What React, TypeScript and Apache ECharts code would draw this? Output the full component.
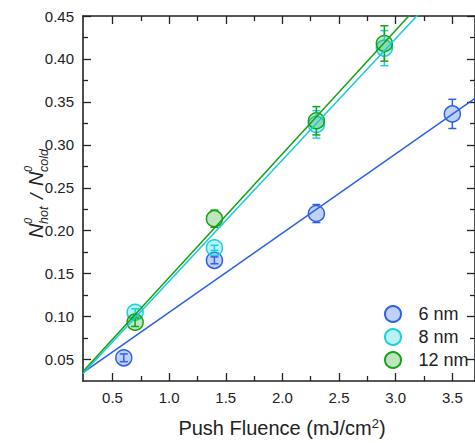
import React, { useEffect, useRef } from "react";
import * as echarts from "echarts";

// ---------- data ----------
const seriesNames = ["6 nm", "8 nm", "12 nm"];
const fluence6 = [0.6, 1.4, 2.3, 3.5];
const ratio6 = [0.052, 0.1655, 0.22, 0.336];
const err6 = [0.0045, 0.004, 0.0105, 0.017];
const fluence8 = [0.7, 1.4, 2.3, 2.9];
const ratio8 = [0.105, 0.18, 0.3238, 0.4126];
const err8 = [0.004, 0.003, 0.016, 0.0204];
const fluence12 = [0.7, 1.4, 2.3, 2.9];
const ratio12 = [0.0935, 0.214, 0.328, 0.418];
const err12 = [0.005, 0.01, 0.0165, 0.0206];
// linear fits: y = intercept + slope * x
const fitIntercepts = [0.0127, -0.0002, 0.0014];
const fitSlopes = [0.0923, 0.1413, 0.144];

const xMajorTicks = [0.5, 1.0, 1.5, 2.0, 2.5, 3.0, 3.5];
const xMinorTicks = [0.75, 1.25, 1.75, 2.25, 2.75, 3.25];
const yMajorTicks = [0.05, 0.1, 0.15, 0.2, 0.25, 0.3, 0.35, 0.4, 0.45];
const yMinorTicks = [0.075, 0.125, 0.175, 0.225, 0.275, 0.325, 0.375, 0.425];

const X_MIN = 0.24;
const X_MAX = 3.7;
const Y_MIN = 0.025;
const Y_MAX = 0.45;

// ---------- style ----------
const FONT = '"Liberation Sans", Arial, sans-serif';
const AX = "#222";
const strokeColors = ["#2e62e6", "#1ccfdc", "#16a316"];
const fillColors = ["rgba(46,98,230,0.3)", "rgba(28,207,220,0.3)", "rgba(22,163,22,0.28)"];
const lineColors = ["#2a5ee8", "#17cbd8", "#13a013"];

export default function App() {
  const ref = useRef<HTMLDivElement>(null);
  useEffect(() => {
    if (!ref.current) return;
    const chart = echarts.init(ref.current, null, { renderer: "svg" });
    const xs = [fluence6, fluence8, fluence12];
    const ys = [ratio6, ratio8, ratio12];
    const es = [err6, err8, err12];

    const scatterSeries = seriesNames.map((name, i) => ({
      name,
      type: "scatter",
      symbol: "circle",
      symbolSize: 16,
      data: xs[i].map((x, k) => [x, ys[i][k]]),
      itemStyle: { color: fillColors[i], borderColor: strokeColors[i], borderWidth: 1.5, opacity: 1 },
      z: 2,
    }));

    const errSeries = seriesNames.map((name, i) => ({
      name: name + " err",
      type: "custom",
      data: xs[i].map((x, k) => [x, ys[i][k], es[i][k]]),
      z: 3,
      renderItem: (params: any, api: any) => {
        const x = api.value(0);
        const y = api.value(1);
        const e = api.value(2);
        const c = api.coord([x, y]);
        const t = api.coord([x, y + e]);
        const b = api.coord([x, y - e]);
        const r = 8;
        const hw = 4;
        const style = { stroke: strokeColors[i], lineWidth: 1.5, fill: "none" };
        const children: any[] = [
          { type: "line", shape: { x1: t[0] - hw, y1: t[1], x2: t[0] + hw, y2: t[1] }, style },
          { type: "line", shape: { x1: b[0] - hw, y1: b[1], x2: b[0] + hw, y2: b[1] }, style },
        ];
        if (c[1] - t[1] > r) {
          children.push({ type: "line", shape: { x1: t[0], y1: t[1], x2: t[0], y2: c[1] - r }, style });
          children.push({ type: "line", shape: { x1: b[0], y1: c[1] + r, x2: b[0], y2: b[1] }, style });
        } else {
          children.push({ type: "line", shape: { x1: t[0], y1: t[1], x2: t[0], y2: b[1] }, style });
        }
        return { type: "group", children };
      },
    }));

    const fitSeries = seriesNames.map((name, i) => ({
      name: name + " fit",
      type: "line",
      showSymbol: false,
      symbol: "none",
      clip: true,
      data: [X_MIN, X_MAX].map((x) => [x, fitIntercepts[i] + fitSlopes[i] * x]),
      lineStyle: { color: lineColors[i], width: 1.5 },
      z: 4,
    }));

    const xBase = { type: "value", min: X_MIN, max: X_MAX, splitLine: { show: false }, gridIndex: 0 };
    const yBase = { type: "value", min: Y_MIN, max: Y_MAX, splitLine: { show: false }, gridIndex: 0 };
    const lineOn = { show: true, onZero: false, lineStyle: { color: AX, width: 1.6 } };
    const majorTick = (vals: number[]) => ({ show: true, inside: true, length: 8, customValues: vals, lineStyle: { color: AX, width: 1.3 } });
    const minorTick = (vals: number[]) => ({ show: true, inside: true, length: 5, customValues: vals, lineStyle: { color: AX, width: 1.3 } });

    const titleText = (text: string, x: number, y: number, size: number) => ({
      type: "text",
      x,
      y,
      style: { text, fontSize: size, fontStyle: "italic", fontFamily: FONT, fill: AX, align: "left", verticalAlign: "middle" },
    });

    const option: any = {
      animation: false,
      backgroundColor: "#fff",
      grid: { left: 83, right: -2, top: 16, bottom: 62, containLabel: false },
      legend: {
        orient: "vertical",
        left: 379,
        top: 300,
        itemWidth: 41,
        itemHeight: 16,
        itemGap: 5,
        data: seriesNames,
        textStyle: { fontSize: 18, color: AX, fontFamily: FONT },
      },
      xAxis: [
        {
          ...xBase,
          position: "bottom",
          axisLine: lineOn,
          axisTick: majorTick(xMajorTicks),
          axisLabel: {
            customValues: xMajorTicks,
            formatter: (v: number) => v.toFixed(1),
            fontSize: 15,
            color: AX,
            fontFamily: FONT,
            margin: 9,
          },
          name: "Push Fluence (mJ/cm{sup|2})",
          nameLocation: "middle",
          nameGap: 36,
          nameTextStyle: {
            fontSize: 20,
            color: AX,
            fontFamily: FONT,
            padding: [0, 0, 0, 6],
            rich: { sup: { fontSize: 13, verticalAlign: "top", color: AX, fontFamily: FONT, padding: [0, 0, 8, 0] } },
          },
        },
        { ...xBase, position: "bottom", axisLine: { show: false }, axisTick: minorTick(xMinorTicks), axisLabel: { show: false } },
        { ...xBase, position: "top", axisLine: lineOn, axisTick: majorTick(xMajorTicks), axisLabel: { show: false } },
        { ...xBase, position: "top", axisLine: { show: false }, axisTick: minorTick(xMinorTicks), axisLabel: { show: false } },
      ],
      yAxis: [
        {
          ...yBase,
          position: "left",
          axisLine: lineOn,
          axisTick: majorTick(yMajorTicks),
          axisLabel: {
            customValues: yMajorTicks,
            formatter: (v: number) => v.toFixed(2),
            fontSize: 15,
            color: AX,
            fontFamily: FONT,
            margin: 9,
          },
        },
        { ...yBase, position: "left", axisLine: { show: false }, axisTick: minorTick(yMinorTicks), axisLabel: { show: false } },
        { ...yBase, position: "right", axisLine: lineOn, axisTick: majorTick(yMajorTicks), axisLabel: { show: false } },
        { ...yBase, position: "right", axisLine: { show: false }, axisTick: minorTick(yMinorTicks), axisLabel: { show: false } },
      ],
      graphic: [
        {
          type: "group",
          x: 43,
          y: 238,
          rotation: Math.PI / 2,
          children: [
            titleText("N", 0, -6.8, 20),
            titleText("0", 14, -15, 11),
            titleText("hot", 14, 0.8, 12.5),
            titleText("/", 39, -6.8, 19),
            titleText("N", 52, -6.8, 20),
            titleText("0", 66, -15, 11),
            titleText("cold", 66, 0.8, 12.5),
          ],
        },
      ],
      series: [...scatterSeries, ...errSeries, ...fitSeries],
    };
    chart.setOption(option);
    return () => chart.dispose();
  }, []);
  return <div ref={ref} style={{ position: "fixed", left: 0, top: 0, width: 475, height: 443, background: "#fff" }} />;
}
